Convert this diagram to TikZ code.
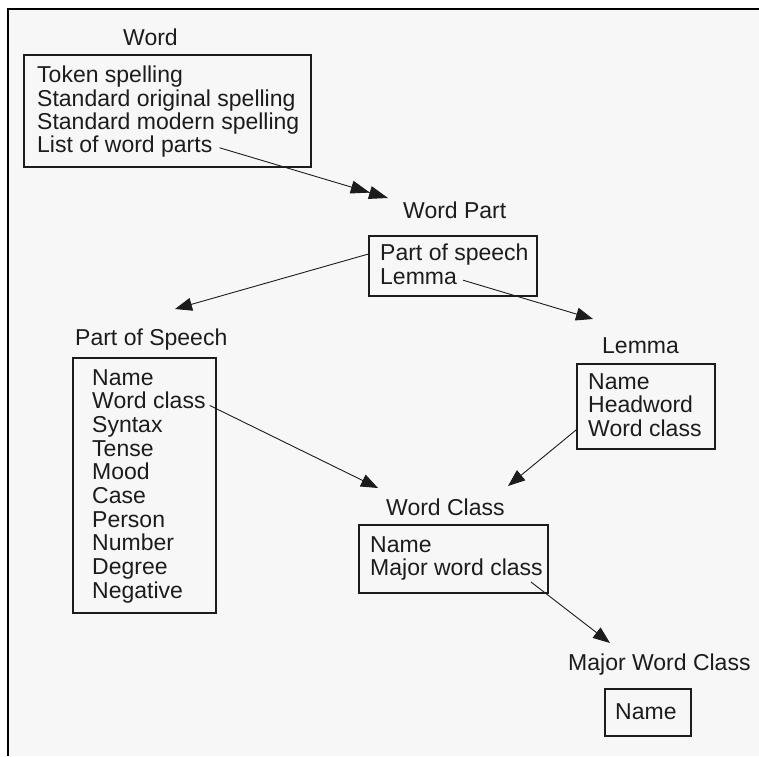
\documentclass[tikz,border=0pt]{standalone}
\usepackage{fontspec}
\setmainfont{Liberation Sans}
\usetikzlibrary{arrows.meta}
\definecolor{bgc}{HTML}{F7F7F7}
\definecolor{ink}{HTML}{1C1C1C}
\begin{document}
\begin{tikzpicture}[x=1pt,y=-1pt,
  every node/.style={font=\fontsize{23}{24}\selectfont, text=ink},
  txt/.style={anchor=base west, inner sep=0pt},
  box/.style={draw=ink, line width=1.4pt, inner sep=0pt, rectangle},
  conn/.style={draw=ink, line width=0.9pt, -{Triangle[length=17pt,width=13pt]}},
  conn2/.style={draw=ink, line width=0.9pt, -{Triangle[length=19pt,width=13pt,sep=0pt]Triangle[length=19pt,width=13pt,sep=0pt]}}
]
\useasboundingbox (0,0) rectangle (759,756);
\fill[white] (0,0) rectangle (759,756);
\fill[bgc] (8,9) rectangle (759,756);
\draw[line width=2pt, black] (759,9) -- (8,9) -- (8,756);

% Word
\node[txt] (tword) at (123,45) {Word};
\node[box, minimum width=287pt, minimum height=112pt] (wordbox) at (167.5,111) {};
\node[txt] (w1) at (37,82.7) {Token spelling};
\node[txt] (w2) at (37,106) {Standard original spelling};
\node[txt] (w3) at (37,129.3) {Standard modern spelling};
\node[txt] (w4) at (37,152.7) {List of word parts};

% Word Part
\node[txt] (twp) at (403,218) {Word Part};
\node[box, minimum width=168pt, minimum height=60pt] (wpbox) at (453,266) {};
\node[txt] (wp1) at (380,260) {Part of speech};
\node[txt] (wp2) at (380,284) {Lemma};

% Part of Speech
\node[txt] (tpos) at (75,345) {Part of Speech};
\node[box, minimum width=143pt, minimum height=255pt] (posbox) at (144.5,485.5) {};
\node[txt] (p1) at (92,385) {Name};
\node[txt] (p2) at (92,408.7) {Word class};
\node[txt] (p3) at (92,432.4) {Syntax};
\node[txt] (p4) at (92,456.1) {Tense};
\node[txt] (p5) at (92,479.8) {Mood};
\node[txt] (p6) at (92,503.5) {Case};
\node[txt] (p7) at (92,527.2) {Person};
\node[txt] (p8) at (92,550.9) {Number};
\node[txt] (p9) at (92,574.6) {Degree};
\node[txt] (p10) at (92,598.3) {Negative};

% Lemma
\node[txt] (tlemma) at (602,353) {Lemma};
\node[box, minimum width=138pt, minimum height=85pt] (lemmabox) at (646,406.5) {};
\node[txt] (l1) at (588,389) {Name};
\node[txt] (l2) at (588,412.5) {Headword};
\node[txt] (l3) at (588,436) {Word class};

% Word Class
\node[txt] (twc) at (386,515) {Word Class};
\node[box, minimum width=189pt, minimum height=68pt] (wcbox) at (453.5,559) {};
\node[txt] (c1) at (370,552) {Name};
\node[txt] (c2) at (370,575) {Major word class};

% Major Word Class
\node[txt] (tmwc) at (568,670) {Major Word Class};
\node[box, minimum width=86pt, minimum height=47pt] (mwcbox) at (648,712.5) {};
\node[txt] (m1) at (615,719) {Name};

% arrow tips
\coordinate (tipA) at (388,198);
\coordinate (tipB) at (175,309);
\coordinate (tipC) at (593,319);
\coordinate (tipD) at (378,488);
\coordinate (tipE) at (508,486);
\coordinate (tipF) at (610,643);

% connectors
\draw[conn2] ([xshift=7pt,yshift=-1pt]w4.east) -- (tipA);
\draw[conn] (wpbox.west |- wp1) -- (tipB);
\draw[conn] ([xshift=6pt,yshift=-4pt]wp2.east) -- (tipC);
\draw[conn] ([xshift=4pt,yshift=-5pt]p2.east) -- (tipD);
\draw[conn] ([yshift=-2pt]lemmabox.west |- l3) -- (tipE);
\draw[conn] ([xshift=-12pt,yshift=-2pt]c2.south east) -- (tipF);
\end{tikzpicture}
\end{document}
